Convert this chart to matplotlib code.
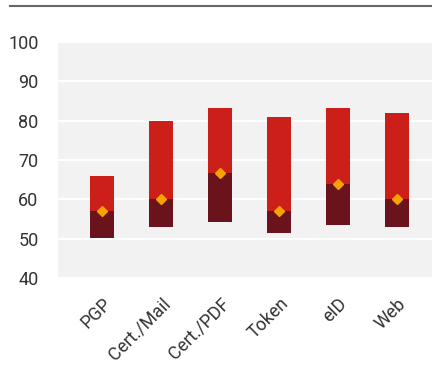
import matplotlib
matplotlib.use("Agg")
import matplotlib.pyplot as plt
from matplotlib.lines import Line2D

# Score ranges per signing method
methods = ["PGP", "Cert./Mail", "Cert./PDF", "Token", "eID", "Web"]
low = [50.2, 53.0, 54.2, 51.5, 53.5, 53.0]
median = [57.0, 60.0, 66.6, 57.0, 63.8, 60.0]
high = [66.0, 80.0, 83.3, 81.0, 83.3, 82.0]

DARK_RED = "#6B131D"
RED = "#CC1F1A"
ORANGE = "#F5A300"
PANEL = "#F2F2F2"

plt.rcParams["font.family"] = ["Roboto", "DejaVu Sans"]

fig = plt.figure(figsize=(4.32, 3.70), dpi=100)
ax = fig.add_axes([58 / 432, 1 - 278 / 370, 1 - 58 / 432, (278 - 42) / 370])
ax.set_facecolor(PANEL)

x = list(range(len(methods)))
width = 0.41
lower = [m - l for m, l in zip(median, low)]
upper = [h - m for h, m in zip(high, median)]
ax.bar(x, lower, bottom=low, width=width, color=DARK_RED, zorder=3)
ax.bar(x, upper, bottom=median, width=width, color=RED, zorder=3)
ax.plot(x, median, linestyle="none", marker="D", markersize=5.5,
        color=ORANGE, zorder=4)

ax.set_ylim(40, 100)
ax.set_xlim(-0.75, 5.59)
ax.set_yticks(range(40, 101, 10))
ax.yaxis.grid(True, color="white", linewidth=1.4, zorder=1)
ax.set_axisbelow(True)
for s in ax.spines.values():
    s.set_visible(False)
ax.tick_params(axis="both", length=0, labelsize=13, labelcolor="#333333")
ax.tick_params(axis="y", pad=14)
ax.set_xticks(x)
ax.set_xticklabels(methods, rotation=45, ha="right", rotation_mode="anchor")
ax.tick_params(axis="x", pad=12)

# rule across the top
fig.add_artist(Line2D([10 / 432, 1.0], [1 - 5.5 / 370, 1 - 5.5 / 370],
                      color="#666666", linewidth=1.5))

fig.savefig("out.png", dpi=100)
